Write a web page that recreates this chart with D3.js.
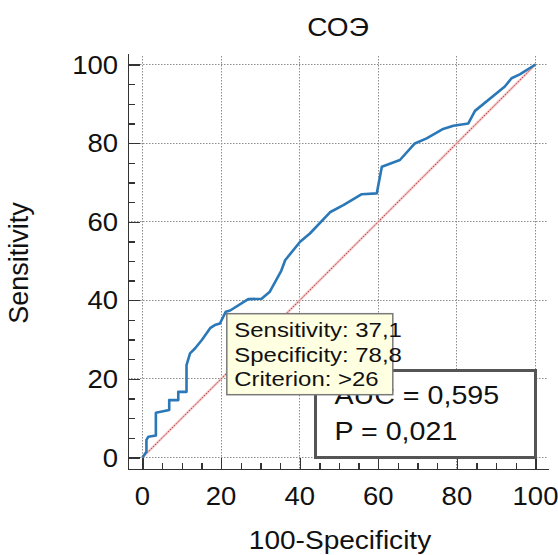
<!DOCTYPE html>
<meta charset="utf-8">
<style>
body { margin: 0; background: #fff; }
svg text { font-family: "Liberation Sans", Arial, sans-serif; fill: #111; }
.grid line { stroke: #8c8c8c; stroke-width: 1; stroke-dasharray: 1.5,1.5; }
.axis path, .axis line { stroke: #333; stroke-width: 1.4; shape-rendering: crispEdges; }
.roc { fill: none; stroke: #2a78b8; stroke-width: 2.6; stroke-linejoin: round; }
</style>
<body>
<div id="plotHere"></div>
<script src="https://cdn.jsdelivr.net/npm/d3@7"></script>
<script>
// ROC curve for СОЭ
const title = "СОЭ";
const xlabel = "100-Specificity";
const ylabel = "Sensitivity";

// 100-Specificity (x) and Sensitivity (y) of the curve vertices
const fpr  = [0, 1, 1, 1.5, 3.4, 3.4, 6.8, 6.8, 9.1, 9.1, 11.2, 11.2, 12.1, 13.4, 15.1, 17.2, 18.4, 19.7, 21.2, 22.3,
              26.9, 30.3, 32.4, 35.3, 36.3, 40.1, 42.6, 47.7, 51.1, 55.8, 59.6, 60.9, 65.5, 69.3, 72.3, 76.5, 79.1,
              82.9, 84.6, 92.2, 93.9, 96, 100];
const sens = [0, 1.5, 4.5, 5.3, 5.6, 11.4, 12.1, 14.6, 14.6, 16.7, 16.7, 23.5, 26.5, 27.8, 29.9, 32.9, 33.7, 34.1, 37.1, 37.4,
              40.3, 40.4, 42.2, 47.5, 50.2, 54.9, 57, 62.4, 64.2, 67, 67.2, 74, 75.7, 79.9, 81.2, 83.6, 84.4,
              85, 88.2, 94.4, 96.5, 97.5, 100];

const majorTicks = [0, 20, 40, 60, 80, 100];
const minorTicks = d3.range(0, 101, 5);

// tooltip and result box
const tipLines = ["Sensitivity: 37,1", "Specificity: 78,8", "Criterion: >26"];
const tipPoint = {x: 100 - 78.8, y: 37.1};
const aucLines = ["AUC = 0,595", "P = 0,021"];

const W = 558, H = 555;
var x = d3.scaleLinear().domain([0, 100]).range([142.5, 535.5]);
var y = d3.scaleLinear().domain([0, 100]).range([457.5, 64.5]);

// frame that holds the axes (a bit wider than the data range)
var fx = d3.scaleLinear().domain([x.invert(128), x.invert(548)]).range([128, 548]);
var fy = d3.scaleLinear().domain([y.invert(469), y.invert(53)]).range([469, 53]);

var svg = d3.select("#plotHere").append("svg")
    .attr("width", W).attr("height", H);

// text a little wider than the plain font, like the original
function label(txt, px, py, size, sx, anchor, rot) {
  return svg.append("text")
    .attr("transform", "translate(" + px + "," + py + ") rotate(" + (rot || 0) + ") scale(" + sx + ",1)")
    .attr("text-anchor", anchor)
    .style("font-size", size + "px")
    .text(txt);
}
// keep 1px dotted lines on whole pixels
const snap = v => Math.floor(v) + 0.5;

//---------------------------- GRID ----------------------------//
var grid = svg.append("g").attr("class", "grid");
grid.selectAll(".gx").data(majorTicks).enter().append("line")
    .attr("x1", d => snap(x(d))).attr("x2", d => snap(x(d)))
    .attr("y1", fy.range()[1] + 3).attr("y2", fy.range()[0]);
grid.selectAll(".gy").data(majorTicks).enter().append("line")
    .attr("y1", d => snap(y(d))).attr("y2", d => snap(y(d)))
    .attr("x1", fx.range()[0]).attr("x2", fx.range()[1]);

//---------------------------- AXES ----------------------------//
svg.append("g").attr("class", "axis")
    .attr("transform", "translate(0,469)")
    .call(d3.axisTop(fx).tickValues(minorTicks).tickSizeInner(6).tickSizeOuter(0).tickFormat(""));
svg.append("g").attr("class", "axis")
    .attr("transform", "translate(0,469)")
    .call(d3.axisTop(fx).tickValues(majorTicks).tickSizeInner(11).tickSizeOuter(0).tickFormat(""));

svg.append("g").attr("class", "axis")
    .attr("transform", "translate(128,0)")
    .call(d3.axisRight(fy).tickValues(minorTicks).tickSizeInner(7).tickSizeOuter(0).tickFormat(""));
svg.append("g").attr("class", "axis")
    .attr("transform", "translate(128,0)")
    .call(d3.axisRight(fy).tickValues(majorTicks).tickSizeInner(12).tickSizeOuter(0).tickFormat(""));

majorTicks.forEach(function(v) {
  label(v, x(v), 505, 25, 1.1, "middle");
  label(v, 118, y(v) + 9, 25, 1.1, "end");
});

label(xlabel, 340, 549, 25.5, 1.1, "middle");
label(ylabel, 28, 263, 27, 1.0, "middle", -90);
label(title, 338, 36, 25, 1.12, "middle");

//---------------------------- LINES ---------------------------//
svg.append("line")
    .attr("x1", x(0)).attr("y1", y(0)).attr("x2", x(100)).attr("y2", y(100))
    .style("stroke", "#efbcbc").style("stroke-width", 2.4);
svg.append("line")
    .attr("x1", x(0)).attr("y1", y(0)).attr("x2", x(100)).attr("y2", y(100))
    .style("stroke", "#a82f2f").style("stroke-width", 1).style("stroke-dasharray", "1,2");

var pts = fpr.map((d, i) => [d, sens[i]]);
svg.append("path")
    .datum(pts)
    .attr("class", "roc")
    .attr("d", d3.line().x(d => x(d[0])).y(d => y(d[1])));

//------------------------- AUC BOX ----------------------------//
svg.append("rect")
    .attr("x", x(100) - 220).attr("y", y(0) - 87)
    .attr("width", 220).attr("height", 87)
    .style("fill", "#fff").style("stroke", "#555").style("stroke-width", 3);
aucLines.forEach(function(t, i) {
  label(t, x(100) - 201, y(0) - 54 + i * 36, 26.5, 1.08, "start");
});

//------------------------- TOOLTIP ----------------------------//
var tx = x(tipPoint.x) + 1, ty = y(tipPoint.y) + 2;
svg.append("rect")
    .attr("x", tx).attr("y", ty)
    .attr("width", 166).attr("height", 81)
    .style("fill", "#ffffe1").style("stroke", "#7a7a7a").style("stroke-width", 1.5);
tipLines.forEach(function(t, i) {
  label(t, tx + 7.5, ty + 23.5 + i * 24.6, 21, 1.14, "start");
});
</script>
</body>
